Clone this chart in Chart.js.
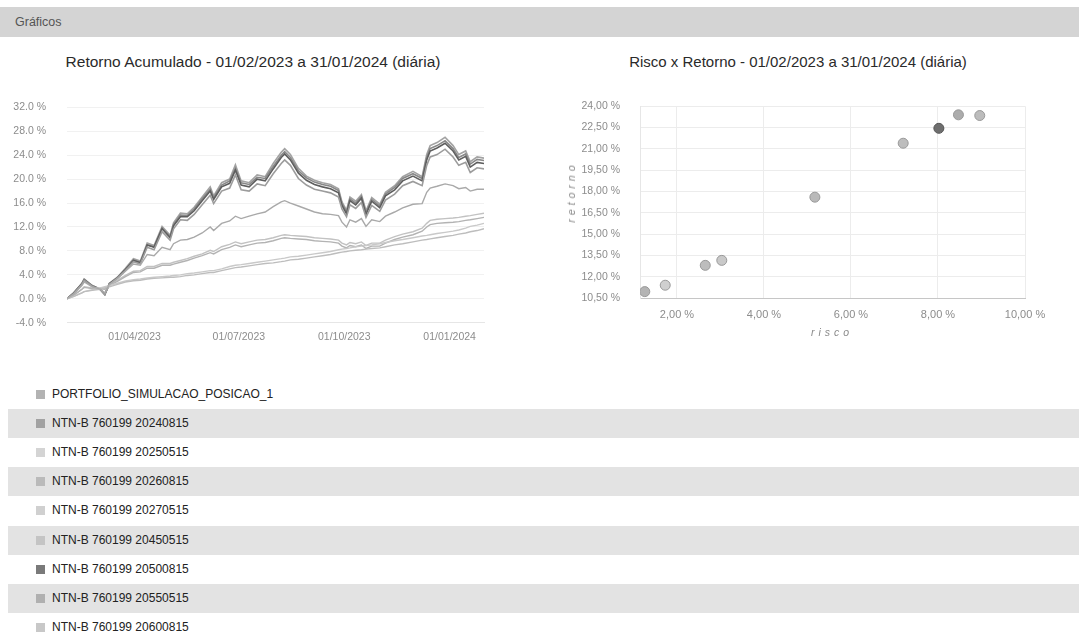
<!DOCTYPE html>
<html>
<head>
<meta charset="utf-8">
<script src="https://cdn.jsdelivr.net/npm/chart.js@4.4.1/dist/chart.umd.min.js"></script>
<style>
html,body{margin:0;padding:0;background:#fff;width:1079px;height:636px;overflow:hidden;font-family:"Liberation Sans",Arial,sans-serif;}
#hdr{position:absolute;left:0;top:7px;width:1079px;height:30px;background:#d4d4d4;}
#hdr span{position:absolute;left:15px;top:8px;font-size:12.5px;color:#555;}
.ttl{position:absolute;font-size:15.5px;color:#2a2a2a;white-space:nowrap;transform:translate(-50%,-50%);}
.axt{position:absolute;font-size:10.5px;font-style:italic;color:#8a8a8a;letter-spacing:4px;white-space:nowrap;}
#cl{position:absolute;left:0;top:80px;}
#cr{position:absolute;left:540px;top:80px;}
#legend{position:absolute;left:0;top:380px;width:1079px;}
.row{position:absolute;left:8px;width:1071px;height:29px;}
.row.alt{background:#e3e3e3;}
.sw{position:absolute;left:28px;top:10px;width:9px;height:9px;}
.lt{position:absolute;left:44px;top:7px;font-size:12px;color:#222;white-space:nowrap;}
</style>
</head>
<body>
<div id="hdr"><span>Gráficos</span></div>
<div class="ttl" style="left:253px;top:62px;">Retorno Acumulado - 01/02/2023 a 31/01/2024 (diária)</div>
<div class="ttl" style="left:798px;top:61px;font-size:15px;">Risco x Retorno - 01/02/2023 a 31/01/2024 (diária)</div>
<canvas id="cl" width="500" height="270"></canvas>
<canvas id="cr" width="539" height="270"></canvas>
<div class="axt" style="left:571px;top:192px;transform:translate(-50%,-50%) rotate(-90deg);">retorno</div>
<div class="axt" style="left:832px;top:332px;transform:translate(-50%,-50%);">risco</div>
<div id="legend"></div>
<script>
// ---------- data ----------
const dates = ['01/02/2023','07/02/2023','14/02/2023','16/02/2023','23/02/2023','02/03/2023','06/03/2023','10/03/2023','17/03/2023','24/03/2023',
'31/03/2023','06/04/2023','12/04/2023','18/04/2023','25/04/2023','02/05/2023','05/05/2023','11/05/2023','17/05/2023','23/05/2023',
'30/05/2023','06/06/2023','09/06/2023','16/06/2023','23/06/2023','28/06/2023','03/07/2023','10/07/2023','17/07/2023','24/07/2023',
'31/07/2023','07/08/2023','10/08/2023','15/08/2023','22/08/2023','29/08/2023','05/09/2023','12/09/2023','19/09/2023','26/09/2023',
'29/09/2023','03/10/2023','06/10/2023','11/10/2023','16/10/2023','20/10/2023','25/10/2023','01/11/2023','06/11/2023','14/11/2023',
'21/11/2023','30/11/2023','08/12/2023','12/12/2023','15/12/2023','21/12/2023','28/12/2023','04/01/2024','09/01/2024','15/01/2024',
'19/01/2024','25/01/2024','31/01/2024'];

const xTickLabels = ['01/04/2023','01/07/2023','01/10/2023','01/01/2024'];

const seriesNames = ['PORTFOLIO_SIMULACAO_POSICAO_1','NTN-B 760199 20240815','NTN-B 760199 20250515','NTN-B 760199 20260815',
'NTN-B 760199 20270515','NTN-B 760199 20450515','NTN-B 760199 20500815','NTN-B 760199 20550515','NTN-B 760199 20600815'];

const portfolio = [0,0.8,2.2,2.8,2.0,1.6,1.0,2.4,3.4,4.6,
5.8,5.6,7.4,7.2,8.6,8.2,9.2,9.8,9.9,10.3,
11.0,12.0,11.4,12.6,13.0,13.8,13.4,13.8,14.2,14.5,
15.4,16.2,16.4,16.0,15.5,15.0,14.5,14.2,14.1,13.9,
12.8,12.0,13.2,12.8,13.4,12.1,13.2,12.9,13.8,14.5,
15.2,15.8,15.9,17.8,18.5,18.8,19.2,18.9,18.4,18.6,
18.0,18.3,18.3];
const ntnb20240815 = [0,0.4,1.0,1.2,1.4,1.6,1.8,2.0,2.4,2.8,
3.0,3.1,3.3,3.4,3.5,3.6,3.6,3.7,3.9,4.0,
4.2,4.4,4.4,4.7,5.0,5.2,5.3,5.5,5.7,5.9,
6.0,6.2,6.3,6.5,6.6,6.8,7.0,7.2,7.4,7.7,
7.8,7.9,8.0,8.1,8.2,8.3,8.4,8.5,8.7,9.0,
9.2,9.5,9.8,9.9,10.0,10.2,10.4,10.6,10.8,11.0,
11.2,11.4,11.7];
const ntnb20250515 = [0,0.4,1.0,1.2,1.5,1.8,2.0,2.2,2.6,3.0,
3.2,3.3,3.5,3.6,3.7,3.8,3.9,4.0,4.2,4.3,
4.5,4.7,4.7,5.0,5.4,5.6,5.7,5.9,6.1,6.3,
6.5,6.7,6.8,7.0,7.1,7.3,7.5,7.7,7.9,8.2,
8.3,8.4,8.5,8.7,8.8,8.9,9.0,9.2,9.4,9.7,
9.9,10.2,10.5,10.6,10.7,10.9,11.1,11.3,11.5,11.8,
12.1,12.3,12.6];
const ntnb20260815 = [0,0.6,1.6,1.9,1.7,1.7,1.6,2.2,2.9,3.7,
4.4,4.5,5.1,5.1,5.6,5.6,5.8,6.1,6.4,6.8,
7.2,7.7,7.5,8.2,8.6,9.0,8.7,9.0,9.3,9.4,
9.7,10.1,10.2,10.1,10.0,9.9,9.7,9.6,9.5,9.3,
8.8,8.5,8.9,8.7,9.0,8.4,8.8,8.8,9.3,9.9,
10.3,10.7,11.3,12.0,12.4,12.6,12.7,12.8,12.9,13.1,
13.2,13.4,13.6];
const ntnb20270515 = [0,0.6,1.6,2.0,1.8,1.8,1.6,2.3,3.1,3.9,
4.6,4.7,5.4,5.4,5.9,5.9,6.1,6.4,6.7,7.1,
7.5,8.1,7.9,8.7,9.1,9.5,9.2,9.5,9.8,9.9,
10.2,10.6,10.7,10.6,10.5,10.4,10.2,10.1,10.0,9.8,
9.3,9.0,9.4,9.2,9.5,8.9,9.3,9.3,9.8,10.4,
10.8,11.2,11.8,12.6,13.1,13.3,13.4,13.5,13.6,13.8,
13.9,14.1,14.3];
const ntnb20450515 = [0,0.9,2.4,3.1,2.1,1.5,0.7,2.4,3.4,4.7,
6.2,5.8,8.6,8.2,11.2,9.8,11.7,13.2,13.1,14.1,
15.7,17.3,15.9,18.0,18.5,20.7,18.2,18.0,19.2,18.9,
20.9,22.6,23.2,22.3,20.1,19.0,18.3,18.0,17.7,17.0,
15.0,13.7,15.7,15.1,16.1,13.6,15.6,14.6,16.5,17.5,
18.9,19.6,18.9,22.3,23.7,24.1,25.0,23.7,22.3,22.8,
21.1,21.9,21.7];
const ntnb20500815 = [0,1.0,2.5,3.2,2.1,1.6,0.7,2.5,3.5,4.9,
6.4,6.0,9.0,8.6,11.7,10.2,12.2,13.7,13.7,14.7,
16.4,18.0,16.6,18.7,19.3,21.5,19.0,18.7,20.0,19.7,
21.7,23.6,24.2,23.2,21.0,19.8,19.1,18.7,18.4,17.7,
15.6,14.2,16.4,15.7,16.8,14.1,16.3,15.2,17.2,18.2,
19.7,20.5,19.7,23.2,24.7,25.2,26.0,24.7,23.2,23.8,
22.0,22.8,22.6];
const ntnb20550515 = [0,1.0,2.5,3.2,2.2,1.6,0.8,2.5,3.5,4.9,
6.5,6.1,9.0,8.7,11.8,10.4,12.4,14.0,13.9,15.0,
16.7,18.3,16.9,19.0,19.7,21.8,19.4,19.1,20.3,20.1,
22.1,24.0,24.6,23.6,21.4,20.2,19.5,19.1,18.8,18.1,
15.9,14.5,16.7,16.0,17.1,14.4,16.6,15.5,17.5,18.6,
20.1,20.9,20.1,23.6,25.1,25.6,26.4,25.1,23.6,24.2,
22.5,23.3,23.1];
const ntnb20600815 = [0,1.0,2.6,3.3,2.2,1.6,0.7,2.6,3.6,5.1,
6.7,6.3,9.3,8.9,12.1,10.6,12.7,14.3,14.2,15.3,
17.0,18.7,17.2,19.4,20.0,22.4,19.7,19.4,20.7,20.4,
22.6,24.5,25.1,24.1,21.8,20.5,19.8,19.4,19.1,18.4,
16.2,14.8,17.0,16.3,17.4,14.7,16.9,15.8,17.8,18.9,
20.4,21.3,20.4,24.1,25.6,26.1,27.0,25.6,24.1,24.7,
22.9,23.7,23.5];

// risk x return (%), same order as seriesNames
const riskValues   = [5.17, 1.26, 1.73, 2.65, 3.03, 7.20, 8.02, 8.47, 8.96];
const returnValues = [17.60, 10.95, 11.40, 12.80, 13.15, 21.40, 22.45, 23.40, 23.35];

const riskTicks = [2, 4, 6, 8, 10];
const returnTicks = [10.5, 12, 13.5, 15, 16.5, 18, 19.5, 21, 22.5, 24];

// ---------- styles ----------
const lineColors = ['#a9a9a9','#bdbdbd','#c9c9c9','#b3b3b3','#c2c2c2','#9c9c9c','#5e5e5e','#888888','#a3a3a3'];
const swatchColors = ['#b3b3b3','#a2a2a2','#d4d4d4','#bababa','#d0d0d0','#c4c4c4','#7a7a7a','#b0b0b0','#c8c8c8'];
const pointColors = ['#b9b9b9','#b4b4b4','#cfcfcf','#bdbdbd','#c9c9c9','#bdbdbd','#6e6e6e','#acacac','#bcbcbc'];

const allSeries = [portfolio, ntnb20240815, ntnb20250515, ntnb20260815, ntnb20270515,
                   ntnb20450515, ntnb20500815, ntnb20550515, ntnb20600815];

function parseDate(s){ const p = s.split('/'); return Date.UTC(+p[2], +p[1]-1, +p[0]); }
const t0 = parseDate(dates[0]);
const dayOf = s => Math.round((parseDate(s) - t0) / 86400000);
const xDays = dates.map(dayOf);
const xTickDays = xTickLabels.map(dayOf);

Chart.defaults.font.family = '"Liberation Sans", Arial, sans-serif';
Chart.defaults.color = '#8a8a8a';

new Chart(document.getElementById('cl'), {
  type: 'line',
  data: {
    datasets: allSeries.map((vals, i) => ({
      label: seriesNames[i],
      data: vals.map((v, j) => ({x: xDays[j], y: v})),
      borderColor: lineColors[i],
      borderWidth: i >= 5 ? 1.6 : 1.4,
      pointRadius: 0,
      tension: 0,
      fill: false
    }))
  },
  options: {
    responsive: false, animation: false, devicePixelRatio: 1,
    layout: {padding: {left: 0, right: 16, top: 14, bottom: 0}},
    plugins: {legend: {display: false}, tooltip: {enabled: false}},
    scales: {
      x: {
        type: 'linear', min: 0, max: xDays[xDays.length - 1],
        afterBuildTicks: s => { s.ticks = xTickDays.map(v => ({value: v})); },
        afterFit: s => { s.height = 23; },
        grid: {display: false, drawTicks: false},
        border: {display: true, color: '#e6e6e6'},
        ticks: {padding: 8, maxRotation: 0, autoSkip: false, font: {size: 10.5}, color: '#8c8c8c',
                callback: (v, i) => xTickLabels[i]}
      },
      y: {
        min: -4, max: 32,
        afterFit: s => { s.width = 67; },
        grid: {color: '#f1f1f1', drawTicks: false},
        border: {display: false},
        ticks: {stepSize: 4, padding: 21, font: {size: 10.5}, color: '#8c8c8c',
                callback: v => v.toFixed(1) + ' %'}
      }
    }
  }
});

const fmt2 = v => v.toFixed(2).replace('.', ',') + ' %';

new Chart(document.getElementById('cr'), {
  type: 'scatter',
  data: {
    datasets: [{
      data: riskValues.map((r, i) => ({x: r, y: returnValues[i]})),
      pointRadius: 5,
      pointBackgroundColor: pointColors,
      pointBorderColor: pointColors.map(c => c === '#6e6e6e' ? '#555' : '#999'),
      pointBorderWidth: 1
    }]
  },
  options: {
    responsive: false, animation: false, devicePixelRatio: 1,
    layout: {padding: {left: 0, right: 54, top: 7, bottom: 7}},
    plugins: {legend: {display: false}, tooltip: {enabled: false}},
    scales: {
      x: {
        type: 'linear', min: 1.15, max: 10,
        afterBuildTicks: s => { s.ticks = riskTicks.map(v => ({value: v})); },
        afterFit: s => { s.height = 45; },
        grid: {color: '#ececec', drawTicks: false},
        border: {display: true, color: '#c6c6c6'},
        ticks: {padding: 10, maxRotation: 0, autoSkip: false, font: {size: 11}, color: '#8c8c8c', callback: v => fmt2(v)}
      },
      y: {
        min: 10.5, max: 24,
        afterBuildTicks: s => { s.ticks = returnTicks.map(v => ({value: v})); },
        afterFit: s => { s.width = 100; },
        grid: {color: '#ececec', drawTicks: false},
        border: {display: true, color: '#e6e6e6'},
        ticks: {padding: 20, autoSkip: false, font: {size: 10.5}, color: '#8c8c8c', callback: v => fmt2(v)}
      }
    }
  }
});

// legend list
const lg = document.getElementById('legend');
seriesNames.forEach((n, i) => {
  const r = document.createElement('div');
  r.className = 'row' + (i % 2 === 1 ? ' alt' : '');
  r.style.top = (i * 29.1) + 'px';
  r.innerHTML = '<div class="sw" style="background:' + swatchColors[i] + '"></div><div class="lt">' + n + '</div>';
  lg.appendChild(r);
});
</script>
</body>
</html>
